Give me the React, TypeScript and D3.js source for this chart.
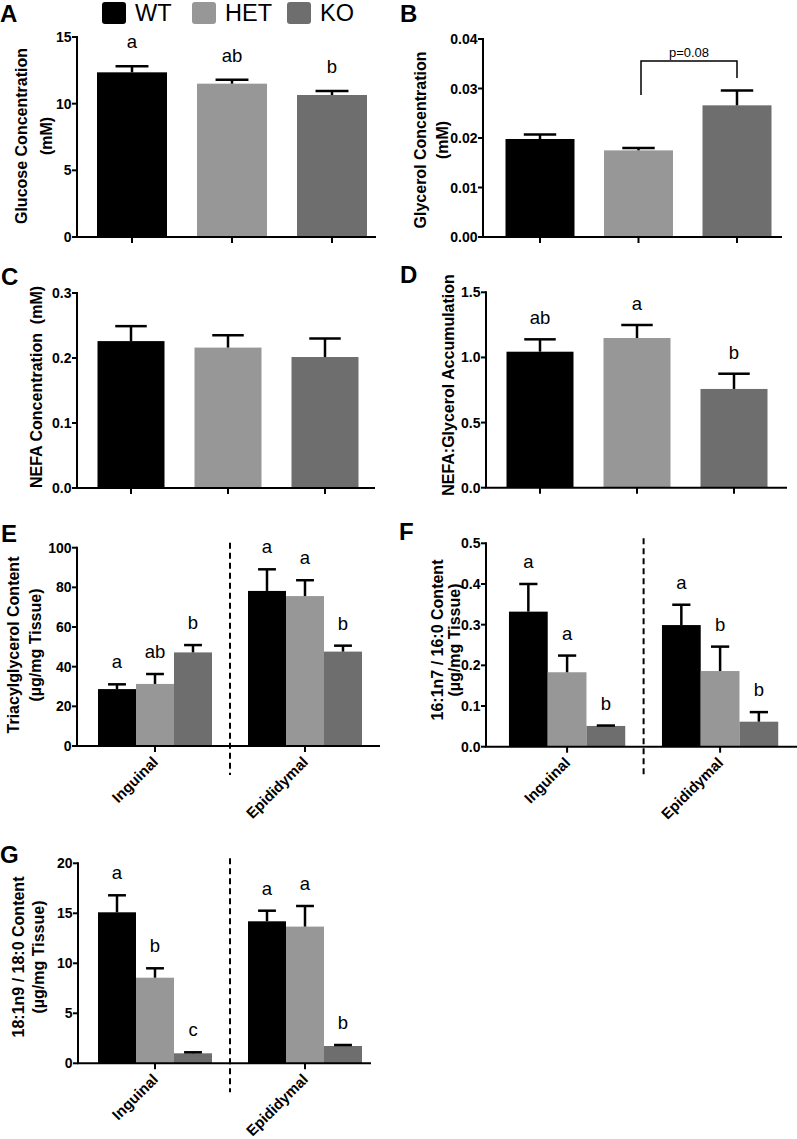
import React from 'react';
import * as d3 from 'd3';

const FONT = "'Liberation Sans', Arial, Helvetica, sans-serif";

const GENOTYPES = ['WT', 'HET', 'KO'];
const GENO_COLORS = ['#000000', '#979797', '#6e6e6e'];
const DEPOTS = ['Inguinal', 'Epididymal'];

// A: glucose
const glucoseMean = [12.35, 11.5, 10.65];
const glucoseSem = [0.45, 0.3, 0.3];
const glucoseLetters = ['a', 'ab', 'b'];
const glucoseTicks = [0, 5, 10, 15];

// B: glycerol
const glycerolMean = [0.0198, 0.0175, 0.0266];
const glycerolSem = [0.0009, 0.0005, 0.003];
const glycerolLetters = ['', '', ''];
const glycerolTicks = [0, 0.01, 0.02, 0.03, 0.04];

// C: NEFA
const nefaMean = [0.226, 0.216, 0.2015];
const nefaSem = [0.023, 0.019, 0.0285];
const nefaLetters = ['', '', ''];
const nefaTicks = [0, 0.1, 0.2, 0.3];

// D: NEFA:glycerol
const ratioMean = [1.044, 1.149, 0.758];
const ratioSem = [0.095, 0.1, 0.117];
const ratioLetters = ['ab', 'a', 'b'];
const ratioTicks = [0, 0.5, 1.0, 1.5];

// E: triacylglycerol
const tagMean = [[28.7, 31.3, 47.2], [78.2, 75.6, 47.6]];
const tagSem = [[2.4, 5.0, 3.7], [10.9, 8.0, 3.0]];
const tagLetters = [['a', 'ab', 'b'], ['a', 'a', 'b']];
const tagTicks = [0, 20, 40, 60, 80, 100];

// F: 16:1n7 / 16:0
const c16Mean = [[0.332, 0.183, 0.051], [0.299, 0.186, 0.0615]];
const c16Sem = [[0.068, 0.041, 0.001], [0.05, 0.06, 0.0235]];
const c16Letters = [['a', 'a', 'b'], ['a', 'b', 'b']];
const c16Ticks = [0, 0.1, 0.2, 0.3, 0.4, 0.5];

// G: 18:1n9 / 18:0
const c18Mean = [[15.1, 8.56, 1.0], [14.2, 13.67, 1.73]];
const c18Sem = [[1.7, 0.94, 0.1], [1.06, 2.06, 0.1]];
const c18Letters = [['a', 'b', 'c'], ['a', 'a', 'b']];
const c18Ticks = [0, 5, 10, 15, 20];

type Bar = { x: number; w: number; mean: number; sem: number; color: string; letter: string };

type PanelProps = {
  letter: string;
  letterPos: [number, number];
  axisX: number;
  y0: number;
  yTop: number;
  xEnd: number;
  ticks: number[];
  fmt: string;
  title: string[];
  titleX: number[];
  titleY: number;
  labelGap: number;
  simple?: { means: number[]; sems: number[]; letters: string[]; first: number; step: number; bw: number };
  grouped?: { means: number[][]; sems: number[][]; letters: string[][]; range: [number, number] };
  children?: React.ReactNode;
};

function Panel(p: PanelProps) {
  const y = d3.scaleLinear().domain([0, p.ticks[p.ticks.length - 1]]).range([p.y0, p.yTop]);
  const format = d3.format(p.fmt);
  const bars: Bar[] = [];
  const xTicks: { x: number; label?: string }[] = [];
  let dashX: number | null = null;

  if (p.simple) {
    const s = p.simple;
    const pad = 1 - s.bw / s.step;
    const r0 = s.first - s.step / 2;
    const x = d3.scaleBand<string>().domain(GENOTYPES).range([r0, r0 + 3 * s.step]).paddingInner(pad).paddingOuter(pad / 2);
    GENOTYPES.forEach((g, i) => {
      bars.push({ x: x(g)!, w: x.bandwidth(), mean: s.means[i], sem: s.sems[i], color: GENO_COLORS[i], letter: s.letters[i] });
      xTicks.push({ x: x(g)! + x.bandwidth() / 2 });
    });
  }
  if (p.grouped) {
    const gr = p.grouped;
    const outer = d3.scaleBand<string>().domain(DEPOTS).range(gr.range).paddingInner(0.24).paddingOuter(0.12);
    const inner = d3.scaleBand<string>().domain(GENOTYPES).range([0, outer.bandwidth()]);
    DEPOTS.forEach((d, di) => {
      GENOTYPES.forEach((g, i) => {
        bars.push({ x: outer(d)! + inner(g)!, w: inner.bandwidth(), mean: gr.means[di][i], sem: gr.sems[di][i], color: GENO_COLORS[i], letter: gr.letters[di][i] });
      });
      xTicks.push({ x: outer(d)! + outer.bandwidth() / 2, label: d });
    });
    dashX = (outer(DEPOTS[0])! + outer.bandwidth() + outer(DEPOTS[1])!) / 2;
  }

  return (
    <g>
      <text x={p.letterPos[0]} y={p.letterPos[1]} fontSize={24} fontWeight="bold" fontFamily={FONT}>{p.letter}</text>
      {bars.map((b, i) => (
        <rect key={'b' + i} x={b.x} y={y(b.mean)} width={b.w} height={p.y0 - y(b.mean)} fill={b.color} />
      ))}
      {bars.map((b, i) => {
        const cx = b.x + b.w / 2;
        const cw = b.w * 0.47;
        return (
          <g key={'e' + i} stroke="#000" strokeWidth={2.5}>
            <line x1={cx} x2={cx} y1={y(b.mean)} y2={y(b.mean + b.sem)} />
            <line x1={cx - cw / 2} x2={cx + cw / 2} y1={y(b.mean + b.sem)} y2={y(b.mean + b.sem)} />
          </g>
        );
      })}
      {bars.map((b, i) => b.letter ? (
        <text key={'l' + i} x={b.x + b.w / 2} y={y(b.mean + b.sem) - p.labelGap} textAnchor="middle" fontSize={18.5} fontFamily={FONT}>{b.letter}</text>
      ) : null)}
      {/* y axis */}
      <line x1={p.axisX} x2={p.axisX} y1={p.yTop - 1} y2={p.y0} stroke="#000" strokeWidth={2} />
      {p.ticks.map((t, i) => (
        <g key={'yt' + i}>
          <line x1={p.axisX - 5} x2={p.axisX} y1={y(t)} y2={y(t)} stroke="#000" strokeWidth={2} />
          <text x={p.axisX - 5.5} y={y(t)} dy="0.36em" textAnchor="end" fontSize={14} fontWeight="bold" fontFamily={FONT}>{format(t)}</text>
        </g>
      ))}
      {/* x axis */}
      <line x1={p.axisX - 1} x2={p.xEnd} y1={p.y0} y2={p.y0} stroke="#000" strokeWidth={2} />
      {xTicks.map((t, i) => (
        <g key={'xt' + i}>
          <line x1={t.x} x2={t.x} y1={p.y0} y2={p.y0 + 6} stroke="#000" strokeWidth={2} />
          {t.label ? (
            <text transform={`translate(${t.x + 4},${p.y0 + 17}) rotate(-45)`} textAnchor="end" fontSize={15} fontWeight="bold" fontFamily={FONT}>{t.label}</text>
          ) : null}
        </g>
      ))}
      {dashX !== null ? (
        <line x1={dashX} x2={dashX} y1={p.yTop - 5} y2={p.y0 + 29} stroke="#000" strokeWidth={2} strokeDasharray="6,4" />
      ) : null}
      {p.title.map((line, i) => (
        <text key={'t' + i} transform={`translate(${p.titleX[i]},${p.titleY}) rotate(-90)`} dy="0.35em" textAnchor="middle" fontSize={16} fontWeight="bold" fontFamily={FONT}>{line}</text>
      ))}
      {p.children}
    </g>
  );
}

export default function App() {
  const legendX = [102, 192, 287];
  return (
    <svg width={797} height={1139} style={{ position: 'absolute', left: 0, top: 0, background: '#fff' }}>
      <rect x={0} y={0} width={797} height={1139} fill="#fff" />
      {GENOTYPES.map((g, i) => (
        <g key={g}>
          <rect x={legendX[i]} y={2} width={24} height={22} rx={3} fill={GENO_COLORS[i]} />
          <text x={legendX[i] + 33} y={21} fontSize={23.5} fontFamily={FONT}>{g}</text>
        </g>
      ))}
      <Panel letter="A" letterPos={[0, 22]} axisX={77} y0={237} yTop={37} xEnd={376} ticks={glucoseTicks} fmt="d"
        title={['Glucose Concentration', '(mM)']} titleX={[21.5, 46]} titleY={136} labelGap={18}
        simple={{ means: glucoseMean, sems: glucoseSem, letters: glucoseLetters, first: 132, step: 100, bw: 70 }} />
      <Panel letter="B" letterPos={[400, 22]} axisX={483} y0={237} yTop={39} xEnd={782} ticks={glycerolTicks} fmt=".2f"
        title={['Glycerol Concentration', '(mM)']} titleX={[420.5, 442.5]} titleY={140} labelGap={16}
        simple={{ means: glycerolMean, sems: glycerolSem, letters: glycerolLetters, first: 540, step: 98.5, bw: 69 }}>
        <path d="M641,95 V61 H737 V78" fill="none" stroke="#000" strokeWidth={1.5} />
        <text x={689} y={57} textAnchor="middle" fontSize={13} fontFamily={FONT}>p=0.08</text>
      </Panel>
      <Panel letter="C" letterPos={[1, 285]} axisX={77} y0={488} yTop={293} xEnd={375} ticks={nefaTicks} fmt=".1f"
        title={['NEFA Concentration\u00A0\u00A0(mM)']} titleX={[36]} titleY={387} labelGap={16}
        simple={{ means: nefaMean, sems: nefaSem, letters: nefaLetters, first: 131, step: 97, bw: 67 }} />
      <Panel letter="D" letterPos={[400, 283]} axisX={486} y0={487.7} yTop={292.3} xEnd={787} ticks={ratioTicks} fmt=".1f"
        title={['NEFA:Glycerol Accumulation']} titleX={[448]} titleY={385} labelGap={15}
        simple={{ means: ratioMean, sems: ratioSem, letters: ratioLetters, first: 540, step: 97, bw: 67 }} />
      <Panel letter="E" letterPos={[1, 542]} axisX={77} y0={746} yTop={547.7} xEnd={380} ticks={tagTicks} fmt="d"
        title={['Triacylglycerol Content', '(µg/mg Tissue)']} titleX={[13.5, 35]} titleY={645} labelGap={16}
        grouped={{ means: tagMean, sems: tagSem, letters: tagLetters, range: [80, 380] }} />
      <Panel letter="F" letterPos={[399, 540]} axisX={486} y0={746.7} yTop={543.3} xEnd={797} ticks={c16Ticks} fmt=".1f"
        title={['16:1n7 / 16:0 Content', '(µg/mg Tissue)']} titleX={[437, 454]} titleY={640} labelGap={16}
        grouped={{ means: c16Mean, sems: c16Sem, letters: c16Letters, range: [490.6, 796.6] }} />
      <Panel letter="G" letterPos={[0, 863]} axisX={78} y0={1063.3} yTop={863.3} xEnd={371} ticks={c18Ticks} fmt="d"
        title={['18:1n9 / 18:0 Content', '(µg/mg Tissue)']} titleX={[18, 38]} titleY={957} labelGap={16}
        grouped={{ means: c18Mean, sems: c18Sem, letters: c18Letters, range: [80, 380] }} />
    </svg>
  );
}
